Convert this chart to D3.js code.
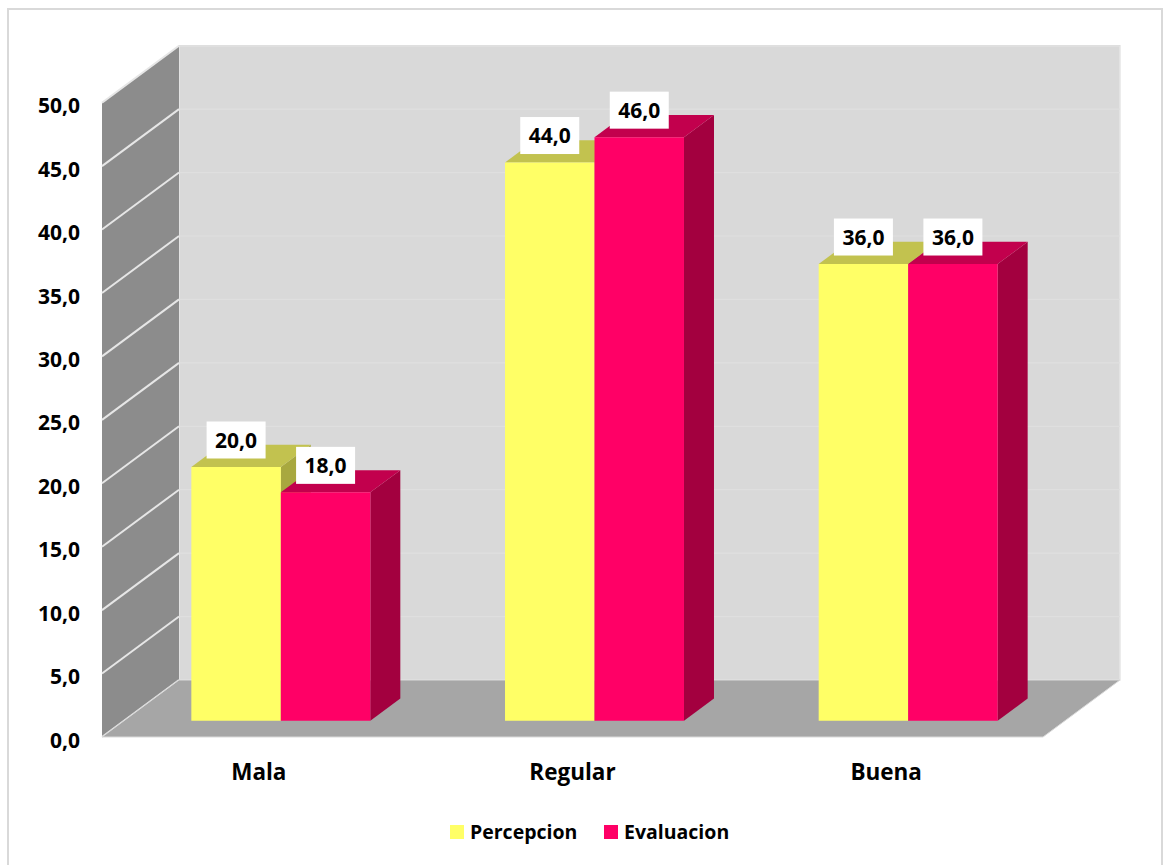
<!DOCTYPE html>
<html><head><meta charset="utf-8">
<script src="https://cdn.jsdelivr.net/npm/d3@7"></script>
<style>body{margin:0;background:#fff}svg{display:block}text{font-family:"Open Sans","Noto Sans",sans-serif;font-weight:700;fill:#000}</style>
</head><body>
<svg id="c" width="1167" height="865"></svg>
<script>
const categories = ["Mala", "Regular", "Buena"];
const seriesNames = ["Percepcion", "Evaluacion"];
const percepcion = [20.0, 44.0, 36.0];
const evaluacion = [18.0, 46.0, 36.0];
const yTicks = [0, 5, 10, 15, 20, 25, 30, 35, 40, 45, 50];

const seriesValues = [percepcion, evaluacion];
const colors = [
  {front: "#ffff66", top: "#c2c24f", side: "#a8a83f"},
  {front: "#ff0066", top: "#c2004d", side: "#a3003f"}
];
const svg = d3.select("#c");
const fmt = v => d3.format(".1f")(v).replace(".", ",");

// projection: front-plane scales + depth offset
const DX = 77, DY = -57;
const y = d3.scaleLinear().domain([0, 50]).range([737, 102.7]);
const pIn = 1 - 179 / 313.7;
const x = d3.scaleBand().domain(categories).range([102, 1043]).paddingInner(pIn).paddingOuter(pIn / 2);
const xs = d3.scaleBand().domain(seriesNames).range([0, x.bandwidth()]);
const P = (px, v, d) => [px + DX * d, y(v) + DY * d];
const poly = pts => "M" + pts.map(p => p.join(",")).join("L") + "Z";

// chart border
svg.append("rect").attr("x", 8).attr("y", 9).attr("width", 1154).attr("height", 870)
  .attr("fill", "#fff").attr("stroke", "#d9d9d9").attr("stroke-width", 2);

const x0 = x.range()[0], x1 = x.range()[1];
// back wall
svg.append("path").attr("d", poly([P(x0, 0, 1), P(x1, 0, 1), P(x1, 50, 1), P(x0, 50, 1)]))
  .attr("fill", "#d9d9d9").attr("stroke", "#e6e6e6").attr("stroke-width", 1.5);
// side wall
svg.append("path").attr("d", poly([P(x0, 0, 0), P(x0, 0, 1), P(x0, 50, 1), P(x0, 50, 0)]))
  .attr("fill", "#8c8c8c");
// grid lines
yTicks.forEach(t => {
  svg.append("line").attr("x1", P(x0, t, 1)[0]).attr("y1", P(x0, t, 1)[1])
    .attr("x2", P(x1, t, 1)[0]).attr("y2", P(x1, t, 1)[1])
    .attr("stroke", "#dfdfdf").attr("stroke-width", 1.2);
  svg.append("line").attr("x1", P(x0, t, 0)[0]).attr("y1", P(x0, t, 0)[1])
    .attr("x2", P(x0, t, 1)[0]).attr("y2", P(x0, t, 1)[1])
    .attr("stroke", "#e6e6e6").attr("stroke-width", 2);
});
// floor
svg.append("path").attr("d", poly([P(x0, 0, 0), P(x1, 0, 0), P(x1, 0, 1), P(x0, 0, 1)]))
  .attr("fill", "#a6a6a6").attr("stroke", "#dadada").attr("stroke-width", 1);

// bars
const D0 = 22 / 77, D1 = 52 / 77;
const labels = [];
categories.forEach((c, ci) => {
  seriesNames.forEach((s, si) => {
    const v = seriesValues[si][ci];
    const bx0 = x(c) + xs(s), bx1 = bx0 + xs.bandwidth();
    const g = svg.append("g");
    g.append("path").attr("d", poly([P(bx1, 0, D0), P(bx1, 0, D1), P(bx1, v, D1), P(bx1, v, D0)])).attr("fill", colors[si].side);
    g.append("path").attr("d", poly([P(bx0, v, D0), P(bx1, v, D0), P(bx1, v, D1), P(bx0, v, D1)])).attr("fill", colors[si].top);
    g.append("path").attr("d", poly([P(bx0, 0, D0), P(bx1, 0, D0), P(bx1, v, D0), P(bx0, v, D0)])).attr("fill", colors[si].front);
    labels.push({x: (bx0 + bx1) / 2 + DX * D0, y: y(v) + DY * D0 - 27, v});
  });
});
// data labels
labels.forEach(l => {
  svg.append("rect").attr("x", l.x - 29.5).attr("y", l.y - 18.5).attr("width", 59).attr("height", 37).attr("fill", "#fff");
  svg.append("text").attr("x", l.x).attr("y", l.y).attr("text-anchor", "middle").attr("dy", "0.36em")
    .style("font-size", "21px").text(fmt(l.v));
});
// y axis labels
yTicks.forEach(t => {
  svg.append("text").attr("x", 80).attr("y", y(t) + 3).attr("text-anchor", "end").attr("dy", "0.36em")
    .style("font-size", "21px").text(fmt(t));
});
// category labels
categories.forEach(c => {
  svg.append("text").attr("x", x(c) + x.bandwidth() / 2).attr("y", 780).attr("text-anchor", "middle")
    .style("font-size", "22.5px").text(c);
});
// legend
const leg = [{name: seriesNames[0], sx: 450, tx: 470}, {name: seriesNames[1], sx: 604, tx: 624}];
leg.forEach((l, i) => {
  svg.append("rect").attr("x", l.sx).attr("y", 825).attr("width", 14).attr("height", 14).attr("fill", colors[i].front);
  svg.append("text").attr("x", l.tx).attr("y", 839).style("font-size", "19.5px").text(l.name);
});
</script>
</body></html>
